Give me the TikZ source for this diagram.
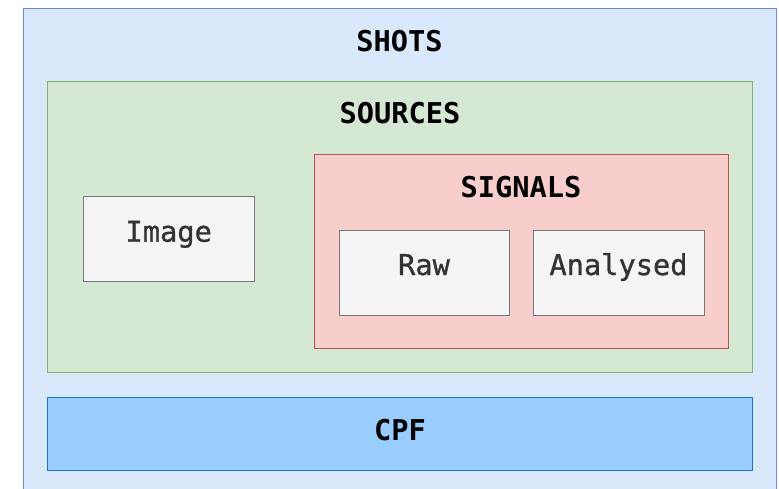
\documentclass[tikz,border=0pt]{standalone}
\usepackage{fontspec}
\setmonofont{DejaVu Sans Mono}
\newfontface\leaffont[FakeBold=1]{DejaVu Sans Mono}

\definecolor{shotsfill}{RGB}{218,232,252}
\definecolor{shotsline}{RGB}{108,142,191}
\definecolor{srcfill}{RGB}{213,232,212}
\definecolor{srcline}{RGB}{130,179,102}
\definecolor{sigfill}{RGB}{248,206,204}
\definecolor{sigline}{RGB}{184,84,80}
\definecolor{leaffill}{RGB}{245,245,245}
\definecolor{leafline}{RGB}{120,120,120}
\definecolor{cpffill}{RGB}{153,204,255}
\definecolor{cpfline}{RGB}{26,115,217}
\definecolor{leaftext}{RGB}{51,51,51}

\tikzset{every picture/.style={line width=0.75pt}}
\tikzset{
  title/.style={anchor=base, inner sep=0pt, font=\ttfamily\bfseries\fontsize{21.5}{24}\selectfont},
  leaf/.style={anchor=base, inner sep=0pt, text=leaftext, font=\leaffont\fontsize{21.5}{24}\selectfont}
}

\begin{document}
\begin{tikzpicture}[x=0.75pt,y=0.75pt,yscale=-1,xscale=1]
\useasboundingbox (0,0) rectangle (779,489);
\clip (0,0) rectangle (779,489);

%Shape: Rectangle [id:shots]
\draw [color=shotsline, fill=shotsfill] (23,8) rectangle (776,500) ;
%Shape: Rectangle [id:sources]
\draw [color=srcline, fill=srcfill] (47,81) rectangle (752.7,372.7) ;
%Shape: Rectangle [id:signals]
\draw [color=sigline, fill=sigfill] (314,154) rectangle (728,348.7) ;
%Shape: Rectangle [id:image]
\draw [color=leafline, fill=leaffill] (83.3,196.3) rectangle (254,281.7) ;
%Shape: Rectangle [id:raw]
\draw [color=leafline, fill=leaffill] (339,230.7) rectangle (509,315.7) ;
%Shape: Rectangle [id:analysed]
\draw [color=leafline, fill=leaffill] (533,230.7) rectangle (704,315.7) ;
%Shape: Rectangle [id:cpf]
\draw [color=cpfline, fill=cpffill] (47,397) rectangle (752.7,470) ;

% Text Node
\node [title] (shotslbl) at (399.5,51.7) {SHOTS};
% Text Node
\node [title] (sourceslbl) at (400,123.3) {SOURCES};
% Text Node
\node [title] (signalslbl) at (521,197.3) {SIGNALS};
% Text Node
\node [leaf] (imagelbl) at (168.7,241.7) {Image};
% Text Node
\node [leaf] (rawlbl) at (424,275) {Raw};
% Text Node
\node [leaf] (analysedlbl) at (618.5,275) {Analysed};
% Text Node
\node [title] (cpflbl) at (400,440) {CPF};

\end{tikzpicture}
\end{document}
